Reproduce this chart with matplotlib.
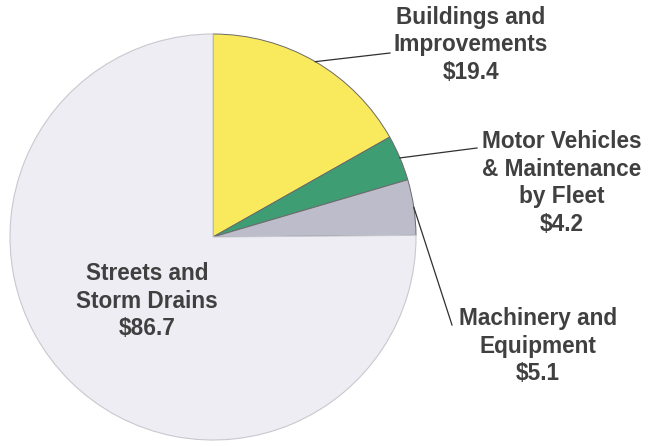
import numpy as np
import matplotlib.pyplot as plt

labels = ["Buildings and\nImprovements\n$19.4",
          "Motor Vehicles\n& Maintenance\nby Fleet\n$4.2",
          "Machinery and\nEquipment\n$5.1",
          "Streets and\nStorm Drains\n$86.7"]
values = [19.4, 4.2, 5.1, 86.7]
colors = ["#f9e95c", "#3f9d73", "#bcbccb", "#ededf3"]

plt.rcParams['font.family'] = ['Liberation Sans', 'DejaVu Sans']

W, H = 651, 447
fig = plt.figure(figsize=(W / 100, H / 100), dpi=100)
ax = fig.add_axes([0, 0, 1, 1])

# work in pixel coords (y measured from the top), flip when drawing
def P(x, y):
    return x, H - y

cx, cy = P(213, 237)
r = 203
wedges, _ = ax.pie(values, colors=colors, startangle=90, counterclock=False,
                   center=(cx, cy), radius=r, frame=True,
                   wedgeprops=dict(linewidth=0.7, edgecolor="#6a6a6a"))
wedges[3].set_edgecolor("#c8c8d0")
wedges[3].set_linewidth(0.8)
ax.set_xlim(0, W)
ax.set_ylim(0, H)
ax.set_aspect('equal')
ax.axis('off')

txt = dict(fontsize=16.3, fontweight='bold', color='#404040', ha='center',
           va='center', linespacing=1.27)

# leader lines start at the middle of each small slice's rim
total = sum(values)
ang = 90.0
mids = []
for v in values:
    span = 360 * v / total
    mids.append(np.deg2rad(ang - span / 2))
    ang -= span

text_pos = [(471, 45), (562, 183), (538, 346)]
line_end = [(390, 53), (477, 148), (452, 325)]
for i in range(3):
    sx = cx + r * np.cos(mids[i])
    sy = cy + r * np.sin(mids[i])
    ex, ey = P(*line_end[i])
    ax.plot([sx, ex], [sy, ey], color='#303030', lw=0.9)
    ax.text(*P(*text_pos[i]), labels[i], **txt)

ax.text(*P(147, 301), labels[3], **txt)

fig.savefig("out.png", dpi=100)
